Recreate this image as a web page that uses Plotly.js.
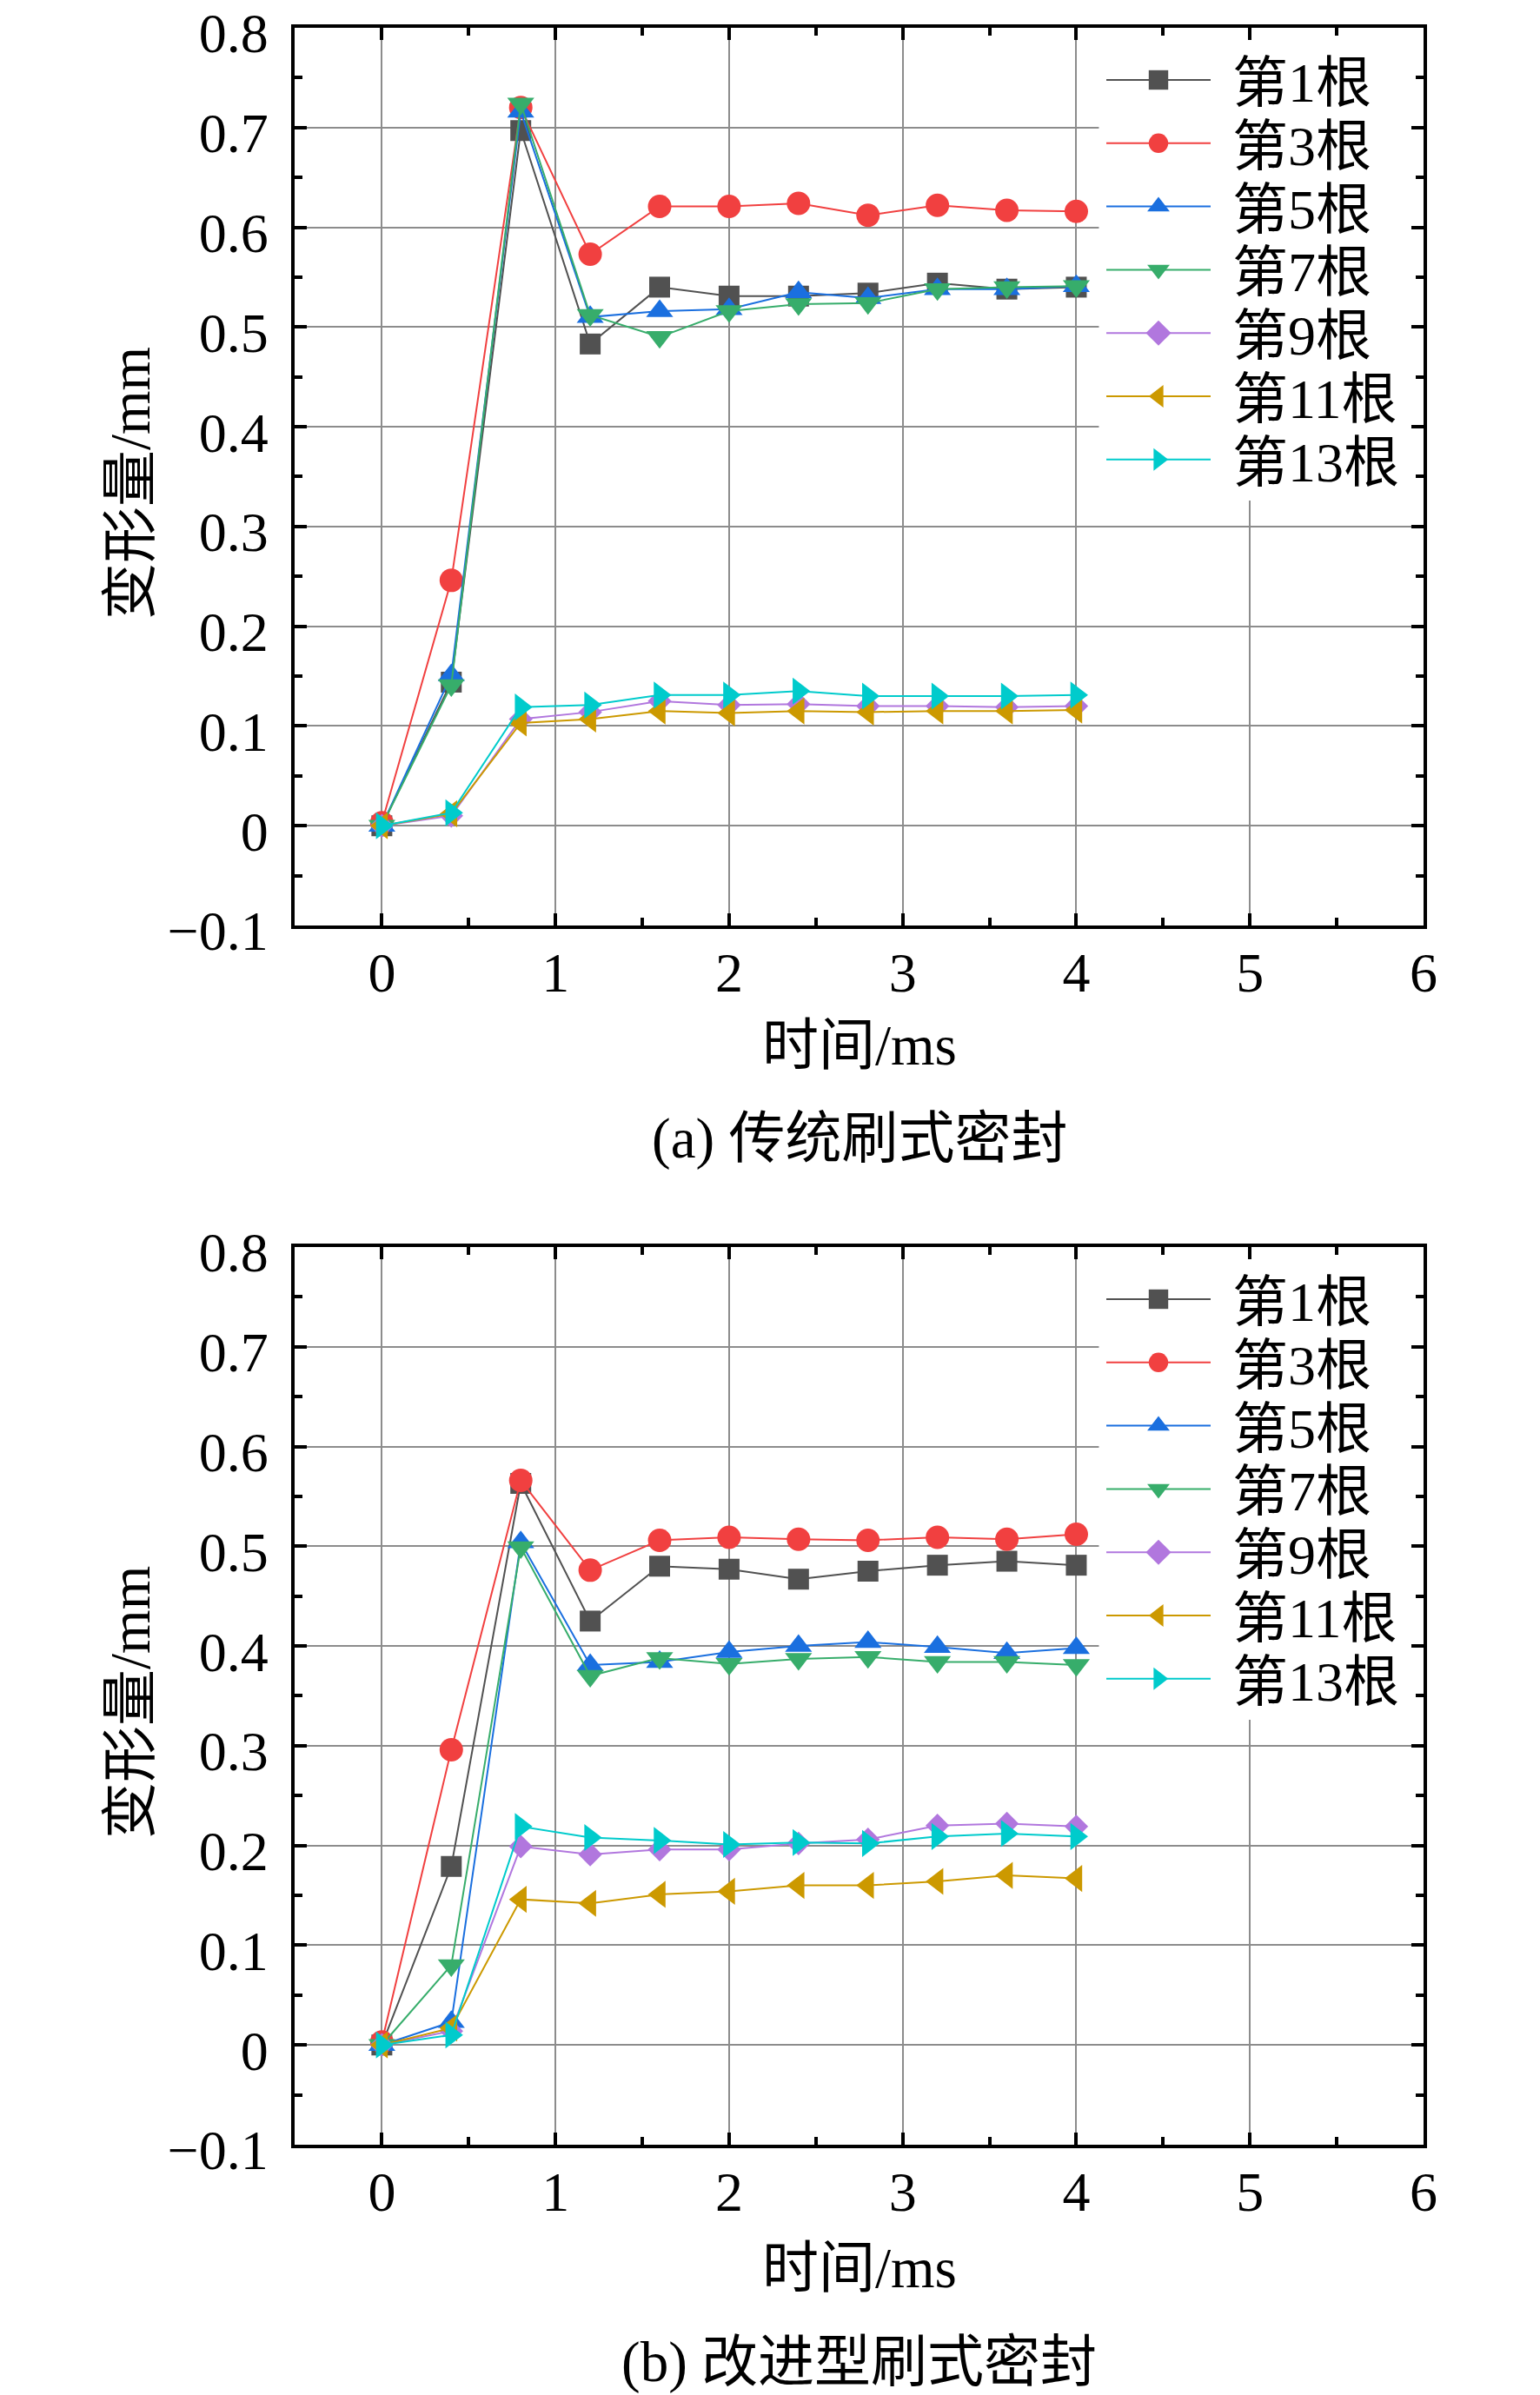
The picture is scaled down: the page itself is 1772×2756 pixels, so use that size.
<!DOCTYPE html>
<html>
<head>
<meta charset="utf-8">
<script src="https://cdn.plot.ly/plotly-3.0.1.min.js"></script>
<style>
  body { margin: 0; background: #fff; }
  #chart { width: 1772px; height: 2756px; }
</style>
</head>
<body>
<div id="chart"></div>
<script>
// time points (ms)
var t = [0, 0.4, 0.8, 1.2, 1.6, 2.0, 2.4, 2.8, 3.2, 3.6, 4.0];

var names = ['第1根', '第3根', '第5根', '第7根', '第9根', '第11根', '第13根'];

// (a) 传统刷式密封
var a1  = [0, 0.144, 0.697, 0.483, 0.540, 0.531, 0.531, 0.534, 0.544, 0.538, 0.540];
var a3  = [0.003, 0.246, 0.720, 0.573, 0.621, 0.621, 0.624, 0.612, 0.622, 0.617, 0.616];
var a5  = [0, 0.151, 0.716, 0.510, 0.516, 0.518, 0.535, 0.529, 0.538, 0.538, 0.541];
var a7  = [0, 0.141, 0.724, 0.512, 0.490, 0.516, 0.523, 0.524, 0.538, 0.540, 0.541];
var a9  = [0, 0.010, 0.107, 0.114, 0.125, 0.121, 0.122, 0.120, 0.120, 0.119, 0.120];
var a11 = [0, 0.012, 0.103, 0.107, 0.115, 0.113, 0.115, 0.114, 0.115, 0.115, 0.116];
var a13 = [0, 0.013, 0.119, 0.121, 0.131, 0.131, 0.135, 0.130, 0.130, 0.130, 0.131];

// (b) 改进型刷式密封
var b1  = [0, 0.179, 0.563, 0.425, 0.480, 0.477, 0.467, 0.475, 0.481, 0.485, 0.481];
var b3  = [0.003, 0.296, 0.566, 0.476, 0.506, 0.509, 0.507, 0.506, 0.509, 0.507, 0.512];
var b5  = [0, 0.023, 0.504, 0.381, 0.384, 0.394, 0.400, 0.404, 0.399, 0.393, 0.398];
var b7  = [0, 0.080, 0.499, 0.370, 0.388, 0.382, 0.387, 0.389, 0.384, 0.384, 0.381];
var b9  = [0, 0.014, 0.199, 0.191, 0.196, 0.196, 0.202, 0.206, 0.220, 0.222, 0.219];
var b11 = [0, 0.017, 0.146, 0.142, 0.151, 0.154, 0.160, 0.160, 0.164, 0.170, 0.167];
var b13 = [0, 0.010, 0.219, 0.208, 0.205, 0.201, 0.203, 0.202, 0.209, 0.212, 0.209];

var colors  = ['#515151', '#F14040', '#1A6FDF', '#37AD6B', '#B177DE', '#CC9900', '#00CBCC'];
var symbols = ['square', 'circle', 'triangle-up', 'triangle-down', 'diamond', 'triangle-left', 'triangle-right'];
var sizes   = [24, 27, 27, 27, 21, 27, 27];

var FONT = "'Liberation Serif', 'Times New Roman', 'Noto Sans CJK SC', serif";

function makeTraces(series, xa, ya, lg) {
  return series.map(function (ys, i) {
    return {
      x: t, y: ys,
      name: names[i],
      type: 'scatter',
      mode: 'lines+markers',
      xaxis: xa, yaxis: ya,
      legend: lg,
      line: {color: colors[i], width: 2},
      marker: {symbol: symbols[i], size: sizes[i], color: colors[i], line: {width: 0}}
    };
  });
}

var data = makeTraces([a1, a3, a5, a7, a9, a11, a13], 'x', 'y', 'legend')
  .concat(makeTraces([b1, b3, b5, b7, b9, b11, b13], 'x2', 'y2', 'legend2'));

function xAxis(anchor) {
  return {
    domain: [0.19159, 0.92438], anchor: anchor,
    range: [-0.5, 6], tick0: 0, dtick: 1,
    showline: true, linewidth: 4, linecolor: '#000', mirror: 'ticks',
    ticks: 'inside', ticklen: 14, tickwidth: 4, tickcolor: '#000',
    minor: {ticks: 'inside', ticklen: 9, tickwidth: 4, tickcolor: '#000', dtick: 0.5, showgrid: false},
    showgrid: true, gridcolor: '#8c8c8c', gridwidth: 1.5, zeroline: false,
    ticklabelstandoff: -5, ticklabeloverflow: 'allow',
    tickfont: {family: FONT, size: 64, color: '#000'}
  };
}
function yAxis(anchor, dom) {
  return {
    domain: dom, anchor: anchor,
    range: [-0.1, 0.8], tick0: 0, dtick: 0.1,
    showline: true, linewidth: 4, linecolor: '#000', mirror: 'ticks',
    ticks: 'inside', ticklen: 14, tickwidth: 4, tickcolor: '#000',
    minor: {ticks: 'inside', ticklen: 9, tickwidth: 4, tickcolor: '#000', dtick: 0.05, showgrid: false},
    showgrid: true, gridcolor: '#8c8c8c', gridwidth: 1.5, zeroline: false,
    ticklabelstandoff: 14, ticklabelshift: 6, ticklabeloverflow: 'allow',
    tickfont: {family: FONT, size: 64, color: '#000'}
  };
}

function legendBox(y) {
  return {
    x: 1268 / 1772, xanchor: 'left', y: y, yanchor: 'top',
    bgcolor: 'rgba(0,0,0,0)', borderwidth: 0,
    itemwidth: 140, tracegroupgap: 0,
    font: {family: FONT, size: 64, color: '#000'}
  };
}

function note(text, x, y, angle) {
  return {
    text: text, xref: 'paper', yref: 'paper', x: x, y: y,
    xanchor: 'center', yanchor: 'middle', showarrow: false,
    textangle: angle || 0,
    font: {family: FONT, size: 65, color: '#000'}
  };
}

// white panel behind the legend: hides the gridlines, keeps the axis ticks
function cover(xr, yr) {
  return {
    type: 'rect', xref: xr, yref: yr, x0: 4.13, x1: 6, y0: 0.326, y1: 0.8,
    fillcolor: '#fff', line: {width: 0}, layer: 'between'
  };
}

var layout = {
  width: 1772, height: 2756,
  margin: {l: 0, r: 0, t: 0, b: 0},
  paper_bgcolor: '#fff', plot_bgcolor: '#fff',
  showlegend: true,
  xaxis: xAxis('y'),
  yaxis: yAxis('x', [0.61357, 0.98839]),
  xaxis2: xAxis('y2'),
  yaxis2: yAxis('x2', [0.10450, 0.47932]),
  legend: legendBox(1 - 32 / 2756),
  legend2: legendBox(1 - 1435 / 2756),
  shapes: [cover('x', 'y'), cover('x2', 'y2')],
  annotations: [
    note('时间/ms', 0.55799, 0.56350),
    note('(a) 传统刷式密封', 0.55799, 0.52467),
    note('变形量/mm', 0.08465, 0.79826, -90),
    note('时间/ms', 0.55799, 0.05298),
    note('(b) 改进型刷式密封', 0.55799, 0.01379),
    note('变形量/mm', 0.08465, 0.28919, -90)
  ]
};

// stretch legend samples and set row spacing like the original figure
function tidyLegend(gd, cls) {
  var lg = gd.querySelector('g.' + cls);
  if (!lg) return;
  lg.querySelectorAll('g.traces').forEach(function (item, i) {
    item.setAttribute('transform', 'translate(0,' + (60 + 72.8 * i) + ')');
    item.querySelectorAll('.legendlines path').forEach(function (p) {
      p.setAttribute('d', 'M5,0h120');
    });
    item.querySelectorAll('.legendpoints path.scatterpts').forEach(function (p) {
      p.setAttribute('transform', 'translate(65,0) scale(1.4)');
    });
    var txt = item.querySelector('text.legendtext');
    if (txt) txt.setAttribute('x', 150);
  });
}

var gd = document.getElementById('chart');
Plotly.newPlot(gd, data, layout, {displayModeBar: false}).then(function () {
  tidyLegend(gd, 'legend');
  tidyLegend(gd, 'legend2');
});
</script>
</body>
</html>
